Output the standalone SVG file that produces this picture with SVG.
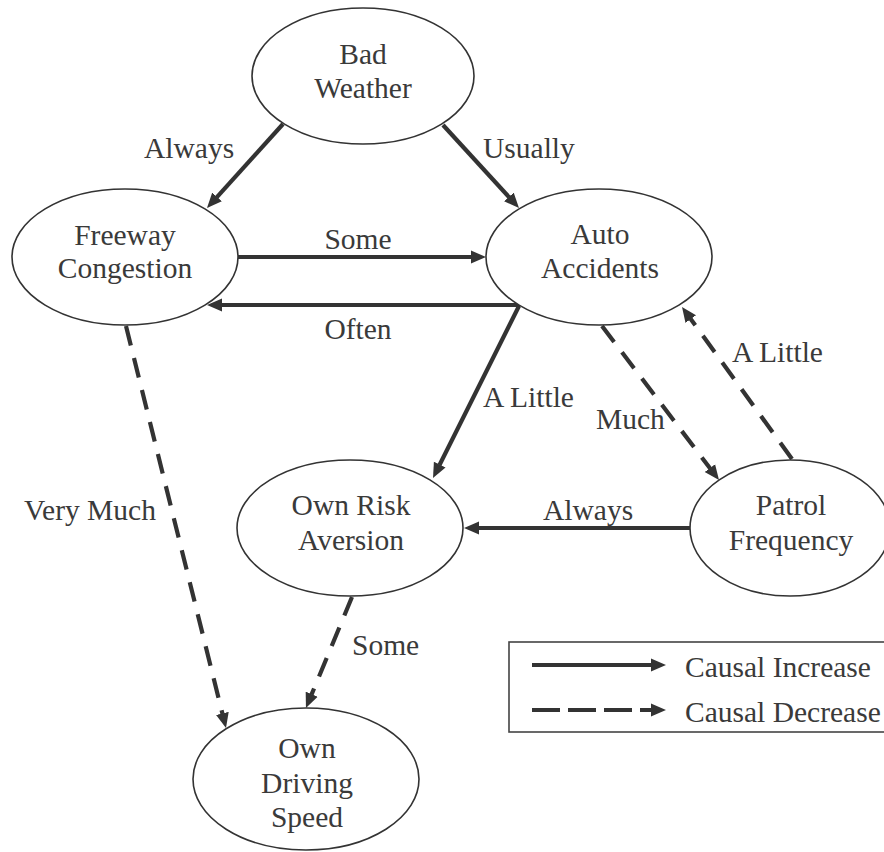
<svg xmlns="http://www.w3.org/2000/svg" width="884" height="852" viewBox="0 0 884 852">
  <style>
    .node ellipse { fill: #ffffff; stroke: #333333; stroke-width: 1.6; }
    text { font-family: "Liberation Serif", "Times New Roman", serif; font-size: 29.5px; fill: #3a3a3a; }
    .node text { text-anchor: middle; }
    .edge { stroke: #333333; stroke-width: 4.2; fill: none; stroke-linecap: butt; }
    .dash { stroke-dasharray: 20 13; }
    .legend-box { fill: none; stroke: #444444; stroke-width: 1.6; }
  </style>
  <defs>
    <marker id="head" markerUnits="userSpaceOnUse" markerWidth="16" markerHeight="14" viewBox="0 -7 16 14" refX="0.5" refY="0" orient="auto">
      <path d="M0,-6.5 L15,0 L0,6.5 z" fill="#333333"/>
    </marker>
  </defs>

  <rect width="884" height="852" fill="#ffffff"/>

  <!-- connectors -->
  <g id="connectors">
    <line class="edge" x1="283" y1="124" x2="216.7" y2="197.3" marker-end="url(#head)"/>
    <line class="edge" x1="443" y1="125" x2="509.2" y2="197.3" marker-end="url(#head)"/>
    <line class="edge" x1="238" y1="257" x2="471.5" y2="257" marker-end="url(#head)"/>
    <line class="edge" x1="520" y1="305" x2="221.5" y2="305" marker-end="url(#head)"/>
    <line class="edge" x1="519" y1="306" x2="439.5" y2="465" marker-end="url(#head)"/>
    <line class="edge dash" x1="602" y1="326" x2="710.2" y2="468.5" marker-end="url(#head)"/>
    <line class="edge dash" x1="792" y1="459" x2="690.5" y2="318.7" marker-end="url(#head)"/>
    <line class="edge" x1="690" y1="528" x2="478.5" y2="528" marker-end="url(#head)"/>
    <line class="edge dash" x1="126" y1="326" x2="222.5" y2="713.9" marker-end="url(#head)"/>
    <line class="edge dash" x1="352" y1="597" x2="311.5" y2="694.6" marker-end="url(#head)"/>

    <text x="144" y="158">Always</text>
    <text x="483" y="158">Usually</text>
    <text x="358" y="249" text-anchor="middle">Some</text>
    <text x="358" y="339" text-anchor="middle">Often</text>
    <text x="483" y="407">A Little</text>
    <text x="596" y="429">Much</text>
    <text x="732" y="362">A Little</text>
    <text x="543" y="520">Always</text>
    <text x="24" y="520">Very Much</text>
    <text x="352" y="655">Some</text>
  </g>

  <!-- nodes -->
  <g id="bad-weather" class="node">
    <ellipse cx="363" cy="76" rx="111" ry="68"/>
    <text x="363" y="64">Bad</text>
    <text x="363" y="98">Weather</text>
  </g>
  <g id="freeway-congestion" class="node">
    <ellipse cx="125" cy="257" rx="113" ry="68"/>
    <text x="125" y="245">Freeway</text>
    <text x="125" y="278">Congestion</text>
  </g>
  <g id="auto-accidents" class="node">
    <ellipse cx="599" cy="257" rx="113" ry="68"/>
    <text x="600" y="244">Auto</text>
    <text x="600" y="278">Accidents</text>
  </g>
  <g id="own-risk-aversion" class="node">
    <ellipse cx="350" cy="528" rx="113" ry="68"/>
    <text x="351" y="515">Own Risk</text>
    <text x="351" y="550">Aversion</text>
  </g>
  <g id="patrol-frequency" class="node">
    <ellipse cx="790" cy="528" rx="100" ry="68"/>
    <text x="791" y="515">Patrol</text>
    <text x="791" y="550">Frequency</text>
  </g>
  <g id="own-driving-speed" class="node">
    <ellipse cx="306" cy="779" rx="113" ry="71"/>
    <text x="307" y="758">Own</text>
    <text x="307" y="793">Driving</text>
    <text x="307" y="827">Speed</text>
  </g>

  <!-- legend -->
  <g id="legend">
    <rect class="legend-box" x="509" y="642" width="400" height="90"/>
    <line class="edge" x1="532" y1="665" x2="651.5" y2="665" marker-end="url(#head)"/>
    <text x="685" y="677">Causal Increase</text>
    <line class="edge" x1="532" y1="710" x2="651.5" y2="710" stroke-dasharray="28 8" marker-end="url(#head)"/>
    <text x="685" y="722">Causal Decrease</text>
  </g>
</svg>
